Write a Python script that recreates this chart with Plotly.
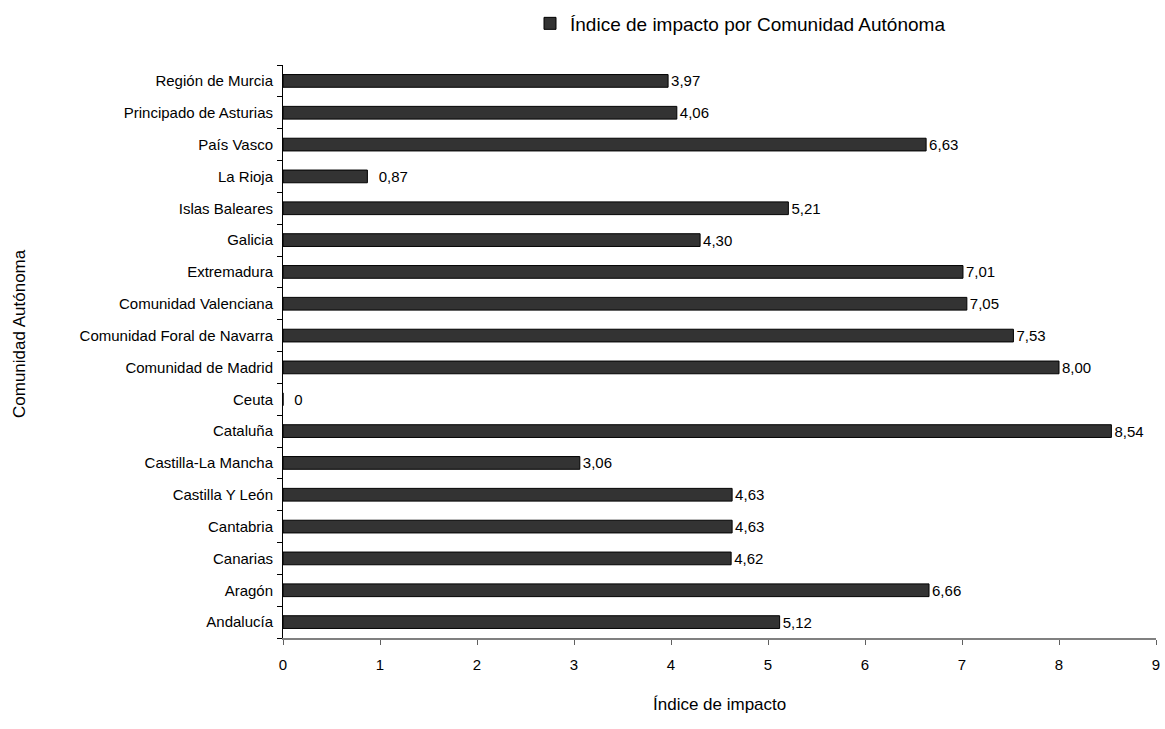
import plotly.graph_objects as go

categories = ["Andalucía", "Aragón", "Canarias", "Cantabria", "Castilla Y León",
              "Castilla-La Mancha", "Cataluña", "Ceuta", "Comunidad de Madrid",
              "Comunidad Foral de Navarra", "Comunidad Valenciana", "Extremadura",
              "Galicia", "Islas Baleares", "La Rioja", "País Vasco",
              "Principado de Asturias", "Región de Murcia"]
values = [5.12, 6.66, 4.62, 4.63, 4.63, 3.06, 8.54, 0, 8.00, 7.53, 7.05, 7.01,
          4.30, 5.21, 0.87, 6.63, 4.06, 3.97]
labels = ["5,12", "6,66", "4,62", "4,63", "4,63", "3,06", "8,54", "  0", "8,00",
          "7,53", "7,05", "7,01", "4,30", "5,21", "  0,87", "6,63", "4,06", "3,97"]
x_ticks = [0, 1, 2, 3, 4, 5, 6, 7, 8, 9]

font_family = "Liberation Sans, Arial, sans-serif"

fig = go.Figure()
fig.add_trace(go.Bar(
    y=categories, x=values, orientation="h",
    name="Índice de impacto por Comunidad Autónoma",
    marker=dict(color="#333333", line=dict(color="#000000", width=1)),
    width=0.4,
    text=labels, textposition="outside", cliponaxis=False, constraintext="none",
    textfont=dict(size=15, color="#000000", family=font_family),
))

fig.update_layout(
    width=1165, height=729,
    paper_bgcolor="white", plot_bgcolor="white",
    margin=dict(l=283, r=9, t=65, b=91, autoexpand=False),
    font=dict(family=font_family, size=15, color="#000000"),
    showlegend=True,
    legend=dict(orientation="h", x=(530 - 283) / 873, y=1 + (65 - 23.5) / 573,
                xanchor="left", yanchor="middle",
                font=dict(size=19), itemwidth=30, bgcolor="rgba(0,0,0,0)"),
    xaxis=dict(range=[0, 9], tickvals=x_ticks, ticks="outside", ticklen=5,
               tickcolor="#606060", showline=True, linecolor="#808080", linewidth=2,
               showgrid=False, zeroline=False, ticklabeloverflow="allow",
               ticklabelstandoff=7, tickfont=dict(size=15)),
    yaxis=dict(categoryorder="array", categoryarray=categories,
               ticks="outside", ticklen=5, tickson="boundaries", tickcolor="#000000",
               showline=True, linecolor="#000000", linewidth=1,
               showgrid=False, zeroline=False, range=[-0.5, 17.5],
               ticklabelstandoff=6, tickfont=dict(size=15)),
    annotations=[
        dict(text="Índice de impacto", xref="paper", yref="paper",
             x=0.5, y=-(704 - 638) / 573, xanchor="center", yanchor="middle",
             showarrow=False, font=dict(size=17)),
        dict(text="Comunidad Autónoma", xref="paper", yref="paper",
             x=-(283 - 19) / 873, y=(638 - 334) / 573, xanchor="center", yanchor="middle",
             textangle=-90, showarrow=False, font=dict(size=17)),
    ],
)

fig.write_html("out.html", config={"displayModeBar": False},
               post_script="document.body.style.margin='0';document.body.style.overflow='hidden';")
